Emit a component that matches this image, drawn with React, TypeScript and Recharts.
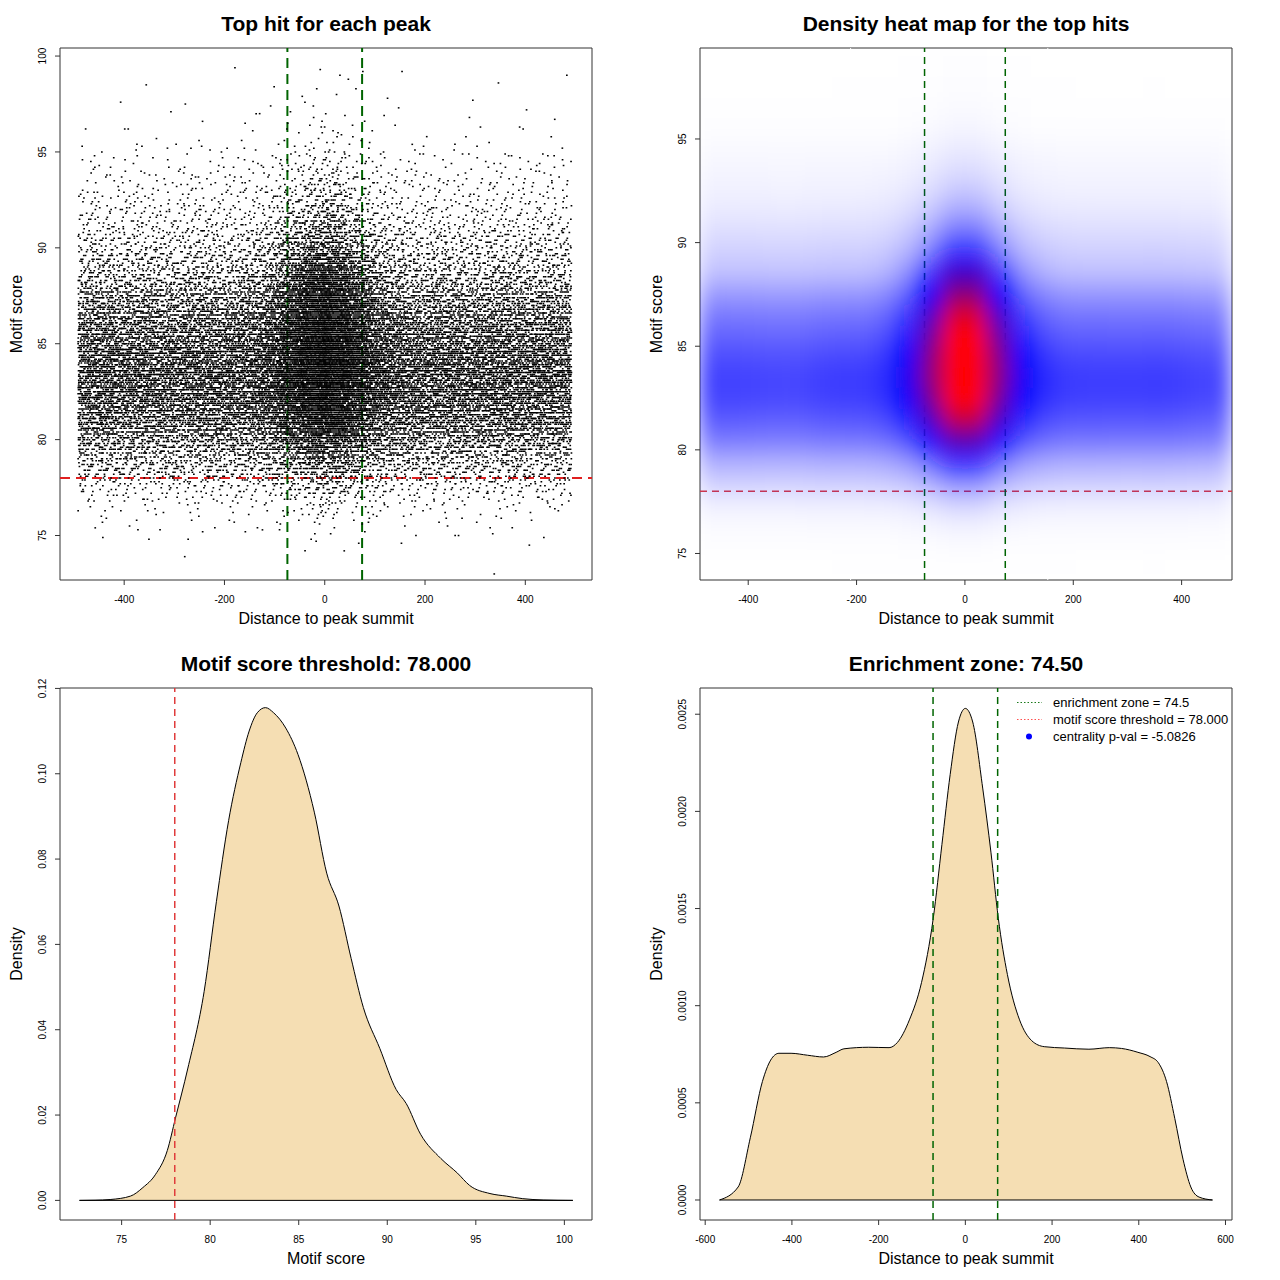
import React from 'react';
import {
  ScatterChart, Scatter, AreaChart, Area, XAxis, YAxis, ReferenceLine, ReferenceArea,
} from 'recharts';

const FONT = '"Liberation Sans", Arial, Helvetica, sans-serif';

// ---- 2D hit table: 41 bp distance columns x 1 unit score rows ----
const distBins = [
  -471.5, -430.5, -389.5, -348.5, -307.5, -266.5, -225.5, -184.5, -143.5, -102.5, -61.5, -20.5,
  20.5, 61.5, 102.5, 143.5, 184.5, 225.5, 266.5, 307.5, 348.5, 389.5, 430.5, 471.5,
];
const binWidth = 41;
const distLimit = 492;
const flankWeight = [
  7.6, 7.6, 7.5, 7.4, 7.4, 7.7, 7.85, 7.85, 7.8, 7.8, 7.8, 7.8,
  7.8, 7.8, 7.8, 7.8, 7.9, 7.8, 7.8, 7.75, 7.85, 7.75, 7.5, 7.4,
];
const centreWeight = [
  0, 0, 0, 0, 0, 0, 0, 0, 0.8, 3.2, 8.7, 16.5,
  16.5, 8.5, 3.0, 0.9, 0, 0, 0, 0, 0, 0, 0, 0,
];
const scoreRows = [
  73, 74, 75, 76, 77, 78, 79, 80, 81, 82, 83, 84, 85, 86,
  87, 88, 89, 90, 91, 92, 93, 94, 95, 96, 97, 98, 99,
];
const flankProfile = [
  0.1, 0.3, 1.2, 4, 12, 30, 50, 80, 100, 114, 116, 108, 94, 80,
  60, 38, 28, 20, 13, 8.5, 6, 3.5, 1.2, 0.6, 0.3, 0.15, 0.08,
];
const centreProfile = [
  0.05, 0.2, 0.8, 3, 8, 18, 35, 58, 82, 100, 112, 115, 110, 98,
  85, 72, 44, 29, 18, 11, 6.5, 4, 2.2, 1.2, 0.8, 0.4, 0.2,
];

// ---- marginal densities ----
const scoreX = [
  72.62, 73.5, 74.35, 75.5, 76.2, 76.9, 77.58, 78.04, 78.73, 79.66, 80.35, 81.04, 81.73, 82.2,
  82.66, 83.12, 83.58, 84.27, 84.96, 85.88, 86.58, 87.27, 87.96, 88.65, 89.58, 90.5, 91.07,
  91.88, 93.03, 93.96, 94.65, 95.8, 96.72, 97.65, 98.8, 100.48,
];
const scoreDensity = [
  0, 0.00005, 0.0002, 0.001, 0.003, 0.006, 0.0117, 0.0193, 0.0308, 0.049, 0.07, 0.089, 0.1026, 0.11,
  0.1143, 0.1155, 0.1143, 0.1107, 0.1045, 0.091, 0.0767, 0.069, 0.0567, 0.0452, 0.0356, 0.026, 0.0227,
  0.0155, 0.0098, 0.0064, 0.0035, 0.0016, 0.001, 0.0004, 0.0001, 0,
];
const distX = [
  -567, -524, -496, -468, -449, -430, -402, -364, -327, -298, -280, -223, -176, -157, -129, -101,
  -74, -54, -35, -16, 0, 17, 40, 59, 76, 97, 125, 153, 182, 229, 285, 332, 360, 398, 426, 445,
  464, 483, 502, 520, 539, 570,
];
const distDensity = [
  0, 0.000067, 0.00032, 0.00061, 0.00072, 0.000755, 0.000755, 0.000745, 0.000736, 0.00076, 0.000778,
  0.000786, 0.000784, 0.00081, 0.000927, 0.00112, 0.00145, 0.00183, 0.00219, 0.00246, 0.00253,
  0.00246, 0.00212, 0.00179, 0.00145, 0.00116, 0.000927, 0.00082, 0.000789, 0.000782, 0.000776,
  0.000784, 0.00078, 0.00076, 0.000738, 0.000707, 0.00061, 0.00042, 0.00021, 0.000067, 0.000015, 0,
];

const threshold = 78;
const zone = 74.5;
const heatSeams = [-211, 153];

const xTicksTop = [-400, -200, 0, 200, 400];
const yTicksScatter = [75, 80, 85, 90, 95, 100];
const yTicksHeat = [75, 80, 85, 90, 95];
const xTicksScore = [75, 80, 85, 90, 95, 100];
const yTicksScore = [0, 0.02, 0.04, 0.06, 0.08, 0.1, 0.12];
const xTicksDist = [-600, -400, -200, 0, 200, 400, 600];
const yTicksDist = [0, 0.0005, 0.001, 0.0015, 0.002, 0.0025];

// ---- geometry ----
const SIZE = 640;
const MARGIN = { top: 48, right: 48, bottom: 20, left: 20 };
const PLOT = SIZE - MARGIN.left - MARGIN.right - 40;
const scatterX: [number, number] = [-528, 533];
const scatterY: [number, number] = [72.68, 100.42];
const heatX: [number, number] = [-489, 493];
const heatY: [number, number] = [73.72, 99.39];
const DOTS_PER_UNIT = 0.14;
const HEAT_TOP = 2400;

const cells = (() => {
  const carry = scoreRows.map(() => 0.37);
  const out: any[] = [];
  distBins.forEach((x, c) => {
    scoreRows.forEach((s, r) => {
      const d = flankWeight[c] * flankProfile[r] + centreWeight[c] * centreProfile[r];
      carry[r] += d * DOTS_PER_UNIT;
      const n = Math.floor(carry[r]);
      carry[r] -= n;
      out.push({ x, y: s + 0.5, n, seed: (c * 27 + r) * 173, v: Math.min(1, d / HEAT_TOP) });
    });
  });
  return out;
})();

const scoreData = scoreX.map((x, i) => ({ x, y: scoreDensity[i] }));
const distData = distX.map((x, i) => ({ x, y: distDensity[i] }));

// low-discrepancy steps used to spread a cell's hits over a tent around it
const STEP = [0.8566748838545029, 0.7338918566271294, 0.6287067210378086, 0.5385972572236103];
const frac = (v: number) => v - Math.floor(v);

function DotCell(props: any) {
  const { cx, cy, payload } = props;
  const sx = PLOT / (scatterX[1] - scatterX[0]);
  const sy = PLOT / (scatterY[1] - scatterY[0]);
  let d = '';
  for (let i = 0; i < payload.n; i++) {
    const k = payload.seed + i;
    const u = frac(0.5 + STEP[0] * k) + frac(0.5 + STEP[1] * k) - 1;
    const v = frac(0.5 + STEP[2] * k) + frac(0.5 + STEP[3] * k) - 1;
    let x = payload.x + u * binWidth;
    if (x < -distLimit) x = -2 * distLimit - x;
    if (x > distLimit) x = 2 * distLimit - x;
    const s = Math.round((payload.y + v) * 10) / 10;
    const px = cx + (x - payload.x) * sx;
    const py = cy - (s - payload.y) * sy;
    d += `M${(px - 0.8).toFixed(1)} ${(py - 0.7).toFixed(1)}h1.7v1.5h-1.7z`;
  }
  return <path d={d} fill="#000" />;
}

function HeatCell(props: any) {
  const { cx, cy, payload } = props;
  const w = binWidth * (PLOT / (heatX[1] - heatX[0])) + 0.6;
  const h = PLOT / (heatY[1] - heatY[0]) + 0.6;
  const v = payload.v;
  let fill = '#0000ff';
  let op = 1;
  if (v < 0.5) {
    op = v / 0.5;
  } else {
    const t = (v - 0.5) / 0.5;
    fill = `rgb(${Math.round(255 * t)},0,${Math.round(255 * (1 - t))})`;
  }
  return <rect x={cx - w / 2} y={cy - h / 2} width={w} height={h} fill={fill} fillOpacity={op} />;
}

const xTick = (fmt: (v: number) => string) => (props: any) => (
  <text x={props.x} y={props.y + 16} textAnchor="middle" fontSize={10} fontFamily={FONT} fill="#000">
    {fmt(props.payload.value)}
  </text>
);
const yTick = (fmt: (v: number) => string) => (props: any) => {
  const tx = props.x - 7;
  return (
    <text x={tx} y={props.y} transform={`rotate(-90 ${tx} ${props.y})`} textAnchor="middle"
      fontSize={10} fontFamily={FONT} fill="#000">
      {fmt(props.payload.value)}
    </text>
  );
};
const intFmt = (v: number) => String(v);

function Panel({ left, top, title, xLabel, yLabel, children }: any) {
  return (
    <div style={{ position: 'absolute', left, top, width: SIZE, height: SIZE }}>
      {children}
      <div style={{ position: 'absolute', left: 0, width: 652, top: 13, textAlign: 'center',
        font: `bold 21px ${FONT}`, lineHeight: '21px', color: '#000' }}>{title}</div>
      <div style={{ position: 'absolute', left: 0, width: 652, top: 611, textAlign: 'center',
        font: `16px ${FONT}`, lineHeight: '16px', color: '#000' }}>{xLabel}</div>
      <div style={{ position: 'absolute', left: 17, top: 314, width: 0, height: 0 }}>
        <div style={{ position: 'absolute', left: -150, top: -8, width: 300, textAlign: 'center',
          font: `16px ${FONT}`, lineHeight: '16px', color: '#000', transform: 'rotate(-90deg)' }}>{yLabel}</div>
      </div>
    </div>
  );
}

const axisProps = { tickSize: 5, tickMargin: 2, axisLine: false, tickLine: { stroke: '#333' } };

export default function App() {
  return (
    <div style={{ position: 'relative', width: 1280, height: 1280, background: '#fff' }}>
      <style>{`body{margin:0}.heat-cells{filter:url(#heatBlur)}`}</style>
      <svg width={0} height={0} style={{ position: 'absolute' }}>
        <defs>
          <filter id="heatBlur" x="0" y="0" width="1" height="1">
            <feGaussianBlur stdDeviation="10" />
          </filter>
        </defs>
      </svg>

      <Panel left={0} top={0} title="Top hit for each peak" xLabel="Distance to peak summit" yLabel="Motif score">
        <ScatterChart width={SIZE} height={SIZE} margin={MARGIN}>
          <XAxis type="number" dataKey="x" domain={scatterX} allowDataOverflow ticks={xTicksTop}
            height={40} tick={xTick(intFmt)} {...axisProps} />
          <YAxis type="number" dataKey="y" domain={scatterY} allowDataOverflow ticks={yTicksScatter}
            width={40} tick={yTick(intFmt)} {...axisProps} />
          <Scatter data={cells} shape={DotCell} isAnimationActive={false} />
          <ReferenceLine y={threshold} stroke="#e02020" strokeWidth={2} strokeDasharray="10 6" />
          <ReferenceLine x={-zone} stroke="#006400" strokeWidth={2} strokeDasharray="10 6" />
          <ReferenceLine x={zone} stroke="#006400" strokeWidth={2} strokeDasharray="10 6" />
          <ReferenceArea x1={scatterX[0]} x2={scatterX[1]} y1={scatterY[0]} y2={scatterY[1]}
            fill="none" stroke="#333" strokeWidth={1} />
        </ScatterChart>
      </Panel>

      <Panel left={640} top={0} title="Density heat map for the top hits" xLabel="Distance to peak summit" yLabel="Motif score">
        <ScatterChart width={SIZE} height={SIZE} margin={MARGIN}>
          <XAxis type="number" dataKey="x" domain={heatX} allowDataOverflow ticks={xTicksTop}
            height={40} tick={xTick(intFmt)} {...axisProps} />
          <YAxis type="number" dataKey="y" domain={heatY} allowDataOverflow ticks={yTicksHeat}
            width={40} tick={yTick(intFmt)} {...axisProps} />
          <Scatter data={cells} shape={HeatCell} className="heat-cells" isAnimationActive={false} />
          {heatSeams.map((s) => (
            <ReferenceLine key={s} x={s} stroke="#ffffff" strokeWidth={1} />
          ))}
          <ReferenceLine y={threshold} stroke="#e03c3c" strokeWidth={1.5} strokeDasharray="7 5" />
          <ReferenceLine x={-zone} stroke="#006400" strokeWidth={1.5} strokeDasharray="7 5" />
          <ReferenceLine x={zone} stroke="#006400" strokeWidth={1.5} strokeDasharray="7 5" />
          <ReferenceArea x1={heatX[0]} x2={heatX[1]} y1={heatY[0]} y2={heatY[1]}
            fill="none" stroke="#333" strokeWidth={1} />
        </ScatterChart>
      </Panel>

      <Panel left={0} top={640} title="Motif score threshold: 78.000" xLabel="Motif score" yLabel="Density">
        <AreaChart width={SIZE} height={SIZE} margin={MARGIN} data={scoreData}>
          <XAxis type="number" dataKey="x" domain={[71.52, 101.56]} allowDataOverflow ticks={xTicksScore}
            height={40} tick={xTick(intFmt)} {...axisProps} />
          <YAxis type="number" domain={[-0.0046, 0.1201]} allowDataOverflow ticks={yTicksScore}
            width={40} tick={yTick((v) => v.toFixed(2))} {...axisProps} />
          <Area type="monotone" dataKey="y" baseValue={0} stroke="#000" strokeWidth={1}
            fill="#F5DEB3" fillOpacity={1} dot={false} activeDot={false} isAnimationActive={false} />
          <ReferenceLine segment={[{ x: scoreX[0], y: 0 }, { x: scoreX[scoreX.length - 1], y: 0 }]}
            stroke="#000" strokeWidth={1} />
          <ReferenceLine x={threshold} stroke="#e03c3c" strokeWidth={1.5} strokeDasharray="7 5" />
          <ReferenceArea x1={71.52} x2={101.56} y1={-0.0046} y2={0.1201}
            fill="none" stroke="#333" strokeWidth={1} />
        </AreaChart>
      </Panel>

      <Panel left={640} top={640} title="Enrichment zone: 74.50" xLabel="Distance to peak summit" yLabel="Density">
        <AreaChart width={SIZE} height={SIZE} margin={MARGIN} data={distData}>
          <XAxis type="number" dataKey="x" domain={[-612, 615]} allowDataOverflow ticks={xTicksDist}
            height={40} tick={xTick(intFmt)} {...axisProps} />
          <YAxis type="number" domain={[-0.000103, 0.002635]} allowDataOverflow ticks={yTicksDist}
            width={40} tick={yTick((v) => v.toFixed(4))} {...axisProps} />
          <Area type="monotone" dataKey="y" baseValue={0} stroke="#000" strokeWidth={1}
            fill="#F5DEB3" fillOpacity={1} dot={false} activeDot={false} isAnimationActive={false} />
          <ReferenceLine segment={[{ x: distX[0], y: 0 }, { x: distX[distX.length - 1], y: 0 }]}
            stroke="#000" strokeWidth={1} />
          <ReferenceLine x={-zone} stroke="#006400" strokeWidth={1.5} strokeDasharray="7 5" />
          <ReferenceLine x={zone} stroke="#006400" strokeWidth={1.5} strokeDasharray="7 5" />
          <ReferenceArea x1={-612} x2={615} y1={-0.000103} y2={0.002635}
            fill="none" stroke="#333" strokeWidth={1} />
        </AreaChart>
        <div style={{ position: 'absolute', left: 370, top: 54, font: `13px ${FONT}`, lineHeight: '17px', color: '#000' }}>
          {[
            { kind: 'line', color: '#1a7a1a', text: 'enrichment zone = 74.5' },
            { kind: 'line', color: '#ff5050', text: 'motif score threshold = 78.000' },
            { kind: 'dot', color: '#0000ff', text: 'centrality p-val = -5.0826' },
          ].map((it) => (
            <div key={it.text} style={{ display: 'flex', alignItems: 'center', height: 17 }}>
              <svg width={43} height={17}>
                {it.kind === 'line'
                  ? <line x1={7} x2={32} y1={8.5} y2={8.5} stroke={it.color} strokeWidth={1.2} strokeDasharray="1.5 2" />
                  : <circle cx={19} cy={8.5} r={3} fill={it.color} />}
              </svg>
              <span>{it.text}</span>
            </div>
          ))}
        </div>
      </Panel>
    </div>
  );
}
